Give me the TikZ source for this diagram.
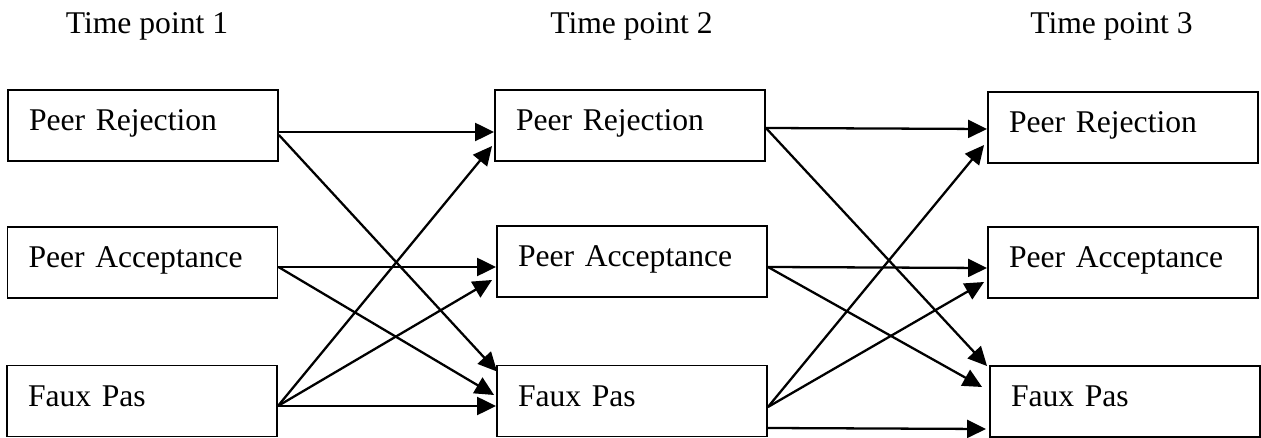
\documentclass[tikz,border=0pt]{standalone}
\usepackage{fontspec}
\setmainfont{Liberation Serif}
\usetikzlibrary{arrows.meta,calc}
\tikzset{
	varbox/.style={
			draw, line width=1.1pt,
			minimum width=5.4cm, text width=4.56cm,
			inner xsep=0.42cm, inner ysep=0pt, align=left,
			text height=0.82cm, text depth=0.6cm,
			font=\fontsize{18}{22}\selectfont
		},
	timelabel/.style={anchor=base, inner sep=0pt, font=\fontsize{18}{22}\selectfont},
	link/.style={-{Triangle[length=0.38cm, width=0.36cm]}, line width=1.3pt}
}

\begin{document}
\begin{tikzpicture}[x=0.02cm, y=-0.02cm]
		\useasboundingbox (0, 0) rectangle (1261, 438);

		\node[timelabel] (tp1) at (147, 34) {Time point 1};
		\node[timelabel] (tp2) at (631.5, 34) {Time point 2};
		\node[timelabel] (tp3) at (1111.5, 34) {Time point 3};

		\node[varbox] (rej1) at (143, 125.5) {Peer Rejection};
		\node[varbox] (acc1) at (142.5, 262.5) {Peer Acceptance};
		\node[varbox] (faux1) at (142, 401) {Faux Pas};

		\node[varbox] (rej2) at (630, 125.5) {Peer Rejection};
		\node[varbox] (acc2) at (632, 261.5) {Peer Acceptance};
		\node[varbox] (faux2) at (632, 401) {Faux Pas};

		\node[varbox] (rej3) at (1123, 127.5) {Peer Rejection};
		\node[varbox] (acc3) at (1123, 262.5) {Peer Acceptance};
		\node[varbox] (faux3) at (1125, 401.5) {Faux Pas};

		\draw[link] ($(rej1.east)+(0, 6.5)$) to ($(rej2.west)+(0, 6.5)$);
		\draw[link] ($(rej1.east)+(0, 9.5)$) to ($(faux2.north west)+(1, 7)$);
		\draw[link] ($(acc1.east)+(0, 4.5)$) to ($(acc2.west)+(0, 5.5)$);
		\draw[link] ($(acc1.east)+(0, 4.5)$) to ($(faux2.west)+(-2, -6)$);
		\draw[link] ($(faux1.east)+(0, 5)$) to ($(rej2.west)+(-2, 20.5)$);
		\draw[link] ($(faux1.east)+(0, 5)$) to ($(acc2.west)+(-4, 18.5)$);
		\draw[link] ($(faux1.east)+(0, 5)$) to ($(faux2.west)+(0, 5)$);

		\draw[link] ($(rej2.east)+(0, 2.5)$) to ($(rej3.west)+(0, 1.5)$);
		\draw[link] ($(rej2.east)+(0, 2.5)$) to ($(faux3.north west)+(-2, 1)$);
		\draw[link] ($(acc2.east)+(0, 5.5)$) to ($(acc3.west)+(0, 5.5)$);
		\draw[link] ($(acc2.east)+(0, 5.5)$) to ($(faux3.west)+(-7, -14.5)$);
		\draw[link] ($(faux2.east)+(0, 6)$) to ($(rej3.west)+(-3, 17.5)$);
		\draw[link] ($(faux2.east)+(0, 6)$) to ($(acc3.west)+(-3, 19.5)$);
		\draw[link] ($(faux2.east)+(0, 27)$) to ($(faux3.west)+(-3, 27.5)$);
\end{tikzpicture}
\end{document}
